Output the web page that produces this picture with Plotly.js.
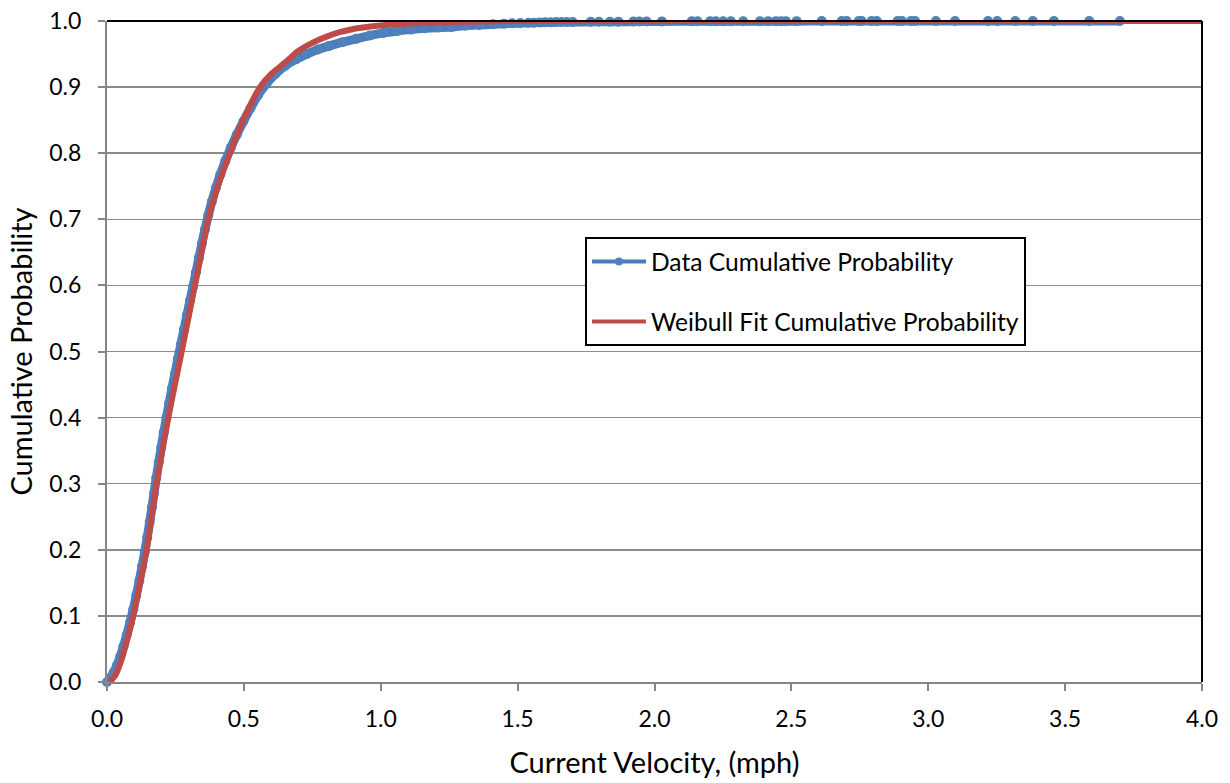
<!DOCTYPE html>
<html><head><meta charset="utf-8">
<script src="https://cdn.plot.ly/plotly-3.0.1.min.js"></script>
<style>html,body{margin:0;padding:0;background:#fff}#chart{width:1230px;height:783px}</style>
</head><body><div id="chart"></div>
<script>
const dataVelocity = [0.000,0.012,0.024,0.036,0.048,0.060,0.072,0.084,0.096,0.107,0.118,0.128,0.138,0.147,0.156,0.164,0.172,0.180,0.189,0.198,0.207,0.217,0.227,0.237,0.248,0.259,0.270,0.281,0.292,0.303,0.314,0.325,0.336,0.347,0.358,0.370,0.383,0.398,0.414,0.432,0.452,0.474,0.498,0.524,0.552,0.582,0.615,0.650,0.690,0.730,0.770,0.810,0.860,0.910,0.960,1.010,1.060,1.110,1.160,1.210,1.260,1.310,1.360,1.410,1.450,1.480,1.510,1.540,1.560,1.580,1.600,1.620,1.640,1.660,1.680,
  1.701,1.767,1.797,1.837,1.868,1.923,1.945,1.971,2.027,2.136,2.157,2.203,2.224,2.251,2.279,2.324,2.385,2.415,2.444,2.462,2.480,2.519,2.611,2.684,2.702,2.746,2.757,2.793,2.812,2.888,2.904,2.937,2.952,3.028,3.098,3.218,3.252,3.318,3.382,3.459,3.588,3.700];
const dataProb = [0.000,0.006,0.014,0.025,0.038,0.054,0.071,0.090,0.110,0.131,0.153,0.175,0.197,0.219,0.242,0.264,0.286,0.309,0.332,0.355,0.377,0.400,0.422,0.444,0.466,0.489,0.511,0.533,0.555,0.577,0.598,0.620,0.642,0.664,0.685,0.706,0.727,0.748,0.768,0.788,0.808,0.828,0.848,0.868,0.888,0.905,0.920,0.932,0.942,0.950,0.957,0.962,0.968,0.973,0.978,0.982,0.985,0.987,0.989,0.990,0.991,0.993,0.994,0.995,0.996,0.9965,0.997,0.9972,0.9975,0.9977,0.998,0.9982,0.9983,0.9984,0.9985,
  0.9986,0.9987,0.9988,0.9989,0.9990,0.9991,0.9992,0.9993,0.9994,0.9995,0.9995,0.9996,0.9996,0.9996,0.9997,0.9997,0.9997,0.9998,0.9998,0.9998,0.9998,0.9998,0.9999,0.9999,0.9999,0.9999,0.9999,0.9999,0.9999,0.9999,0.9999,1.0,1.0,1.0,1.0,1.0,1.0,1.0,1.0,1.0,1.0,1.0];

// Weibull fit cumulative probability
const fitVelocity = [0.010,0.030,0.050,0.070,0.096,0.120,0.145,0.163,0.181,0.202,0.224,0.248,0.273,0.297,0.321,0.345,0.370,0.405,0.449,0.500,0.559,0.600,0.650,0.700,0.750,0.800,0.850,0.900,0.970,1.050,1.150,1.300,1.500,4.000];
const fitProb = [0.000,0.010,0.030,0.058,0.100,0.148,0.200,0.250,0.300,0.350,0.400,0.450,0.500,0.550,0.600,0.650,0.700,0.750,0.800,0.852,0.900,0.920,0.937,0.955,0.967,0.976,0.983,0.988,0.992,0.995,0.997,0.999,1.000,1.000];

const xTickVals = [0,0.5,1,1.5,2,2.5,3,3.5,4];
const xTickText = ['0.0','0.5','1.0','1.5','2.0','2.5','3.0','3.5','4.0'];
const yTickVals = [0,0.1,0.2,0.3,0.4,0.5,0.6,0.7,0.8,0.9,1];
const yTickText = ['0.0','0.1','0.2','0.3','0.4','0.5','0.6','0.7','0.8','0.9','1.0'];

const seriesNames = ['Data Cumulative Probability', 'Weibull Fit Cumulative Probability'];
const BLUE = '#4A7EBB', BLUE_MK = '#4F81BD', RED = '#BE4B48';
const FONT = 'Lato, Carlito, Calibri, "Open Sans", sans-serif';

const traces = [
  {
    x: dataVelocity, y: dataProb, type: 'scatter', mode: 'lines+markers',
    name: seriesNames[0], legendgroup: 'a', showlegend: false,
    line: {color: BLUE, width: 9, shape: 'spline', smoothing: 0.5},
    marker: {color: BLUE_MK, size: 10},
    cliponaxis: false
  },
  {
    x: fitVelocity, y: fitProb, type: 'scatter', mode: 'lines',
    name: seriesNames[1], legendgroup: 'b', showlegend: false,
    line: {color: RED, width: 6, shape: 'spline', smoothing: 0.6}
  },
  // legend entries (styled like the reference legend keys)
  {
    x: [null], y: [null], type: 'scatter', mode: 'lines+markers',
    name: seriesNames[0], legendgroup: 'a', showlegend: true,
    line: {color: BLUE, width: 4}, marker: {color: BLUE_MK, size: 8}
  },
  {
    x: [null], y: [null], type: 'scatter', mode: 'lines',
    name: seriesNames[1], legendgroup: 'b', showlegend: true,
    line: {color: RED, width: 4}
  }
];

const layout = {
  width: 1230, height: 783,
  margin: {l: 107, r: 28, t: 21, b: 101},
  paper_bgcolor: '#fff', plot_bgcolor: '#fff',
  font: {family: FONT, color: '#000', size: 23},
  showlegend: true,
  legend: {
    x: 0.4365, y: 0.6732, xanchor: 'left', yanchor: 'top',
    bgcolor: '#fff', bordercolor: '#000', borderwidth: 2,
    font: {family: FONT, size: 24.6, color: '#000'},
    itemwidth: 54, tracegroupgap: 25, traceorder: 'grouped'
  },
  xaxis: {
    range: [0, 4], tickvals: xTickVals, ticktext: xTickText,
    ticks: 'outside', ticklen: 7, tickwidth: 2, tickcolor: '#868686',
    showline: true, linecolor: '#868686', linewidth: 2,
    showgrid: false, zeroline: false, automargin: false,
    tickfont: {family: FONT, size: 23}, ticklabelstandoff: 8,
    title: {text: 'Current Velocity, (mph)', font: {family: FONT, size: 29}, standoff: 22}
  },
  yaxis: {
    range: [0, 1], tickvals: yTickVals, ticktext: yTickText,
    ticks: 'outside', ticklen: 7, tickwidth: 2, tickcolor: '#868686',
    showline: true, linecolor: '#868686', linewidth: 2,
    showgrid: true, gridcolor: '#8c8c8c', gridwidth: 1.5,
    zeroline: false, automargin: false,
    tickfont: {family: FONT, size: 23}, ticklabelstandoff: 12,
    title: {text: 'Cumulative Probability', font: {family: FONT, size: 29}, standoff: 8}
  },
  shapes: [
    {type: 'line', xref: 'paper', yref: 'paper', x0: 0, x1: 1, y0: 1, y1: 1, line: {color: '#000', width: 2}, layer: 'above'},
    {type: 'line', xref: 'paper', yref: 'paper', x0: 1, x1: 1, y0: 0, y1: 1, line: {color: '#000', width: 2}, layer: 'above'}
  ]
};

Plotly.newPlot('chart', traces, layout, {displayModeBar: false, staticPlot: true});
</script>
</body></html>
